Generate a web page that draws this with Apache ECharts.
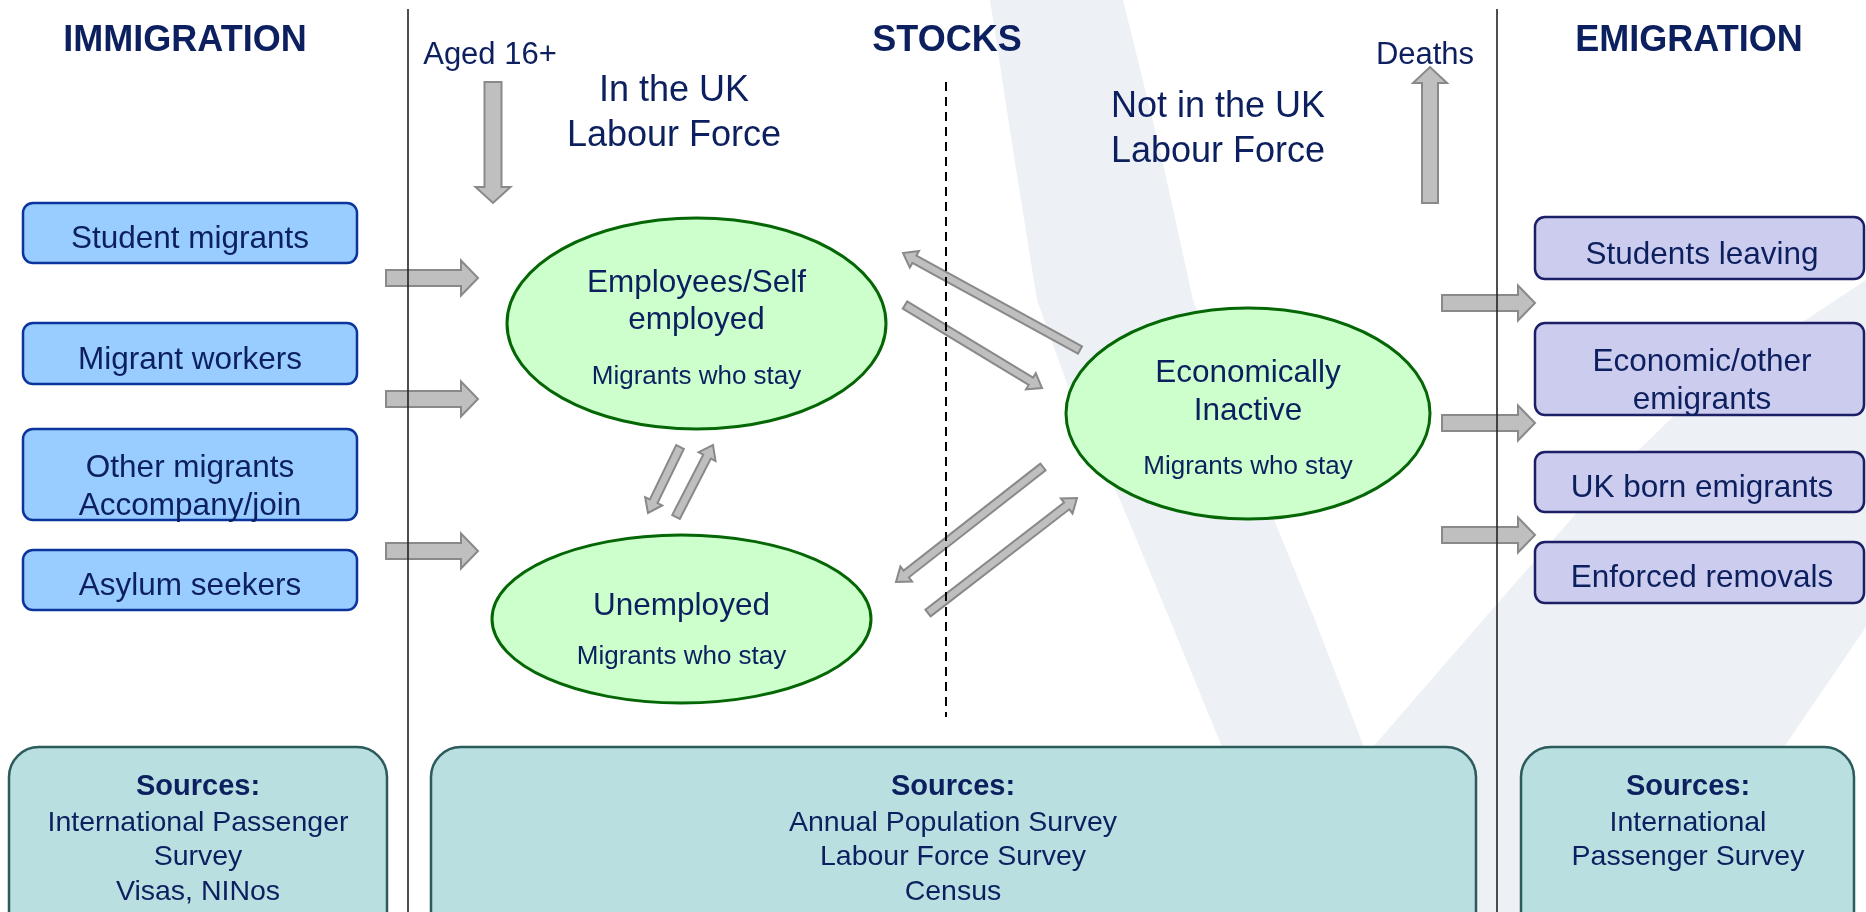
<!DOCTYPE html>
<html>
<head>
<meta charset="utf-8">
<script src="https://cdn.jsdelivr.net/npm/echarts@6/dist/echarts.min.js"></script>
<style>
html,body{margin:0;padding:0;background:#ffffff;}
#chart{width:1866px;height:912px;}
</style>
</head>
<body>
<div id="chart"></div>
<script>
// ================= DATA =================
const sectionHeaders = ['IMMIGRATION', 'STOCKS', 'EMIGRATION'];
const immigrationFlows = ['Student migrants', 'Migrant workers', 'Other migrants\nAccompany/join', 'Asylum seekers'];
const emigrationFlows = ['Students leaving', 'Economic/other\nemigrants', 'UK born emigrants', 'Enforced removals'];
const stockStates = ['Employees/Self\nemployed', 'Unemployed', 'Economically\nInactive'];
const stockNote = 'Migrants who stay';
const stockGroups = ['In the UK\nLabour Force', 'Not in the UK\nLabour Force'];
const populationEntry = 'Aged 16+';
const populationExit = 'Deaths';
// transitions between stock states: [from, to]
const stateTransitions = [[2, 0], [0, 2], [2, 1], [1, 2], [0, 1], [1, 0]];
const sourcesTitle = 'Sources:';
const immigrationSources = ['International Passenger', 'Survey', 'Visas, NINos'];
const stockSources = ['Annual Population Survey', 'Labour Force Survey', 'Census'];
const emigrationSources = ['International', 'Passenger Survey'];

// ================= LAYOUT (diagram space, 1866 x 912) =================
const LAYOUT = {
  headerX: [185, 947, 1689], headerY: 36.5,
  dividerX: [408, 1497], dividerTop: 9,
  dashedX: 946, dashedY: [82, 717],
  inBoxX: [23, 357], inBoxY: [[203, 263], [323, 384], [429, 520], [550, 610]],
  inTextY: [235.5, 356.5, 483, 582.5],
  inArrowX: [386, 478], inArrowY: [278, 399, 551],
  outBoxX: [1535, 1864], outBoxY: [[217, 279], [323, 415], [452, 512], [542, 603]],
  outTextX: 1702, outTextY: [251, 377, 484, 574],
  outArrowX: [1442, 1535], outArrowY: [303, 423, 535],
  ellipses: [
    { cx: 696.5, cy: 323.5, rx: 189.5, ry: 105.5, ty: 297.5, sy: 373.5 },
    { cx: 681.5, cy: 619, rx: 189.5, ry: 84, ty: 602, sy: 653.5 },
    { cx: 1248, cy: 413.5, rx: 182, ry: 105.5, ty: 388, sy: 463.5 }
  ],
  transitionPaths: {
    '2-0': [[1080, 350], [903, 253]],
    '0-2': [[905, 305], [1042, 388]],
    '2-1': [[1043, 467], [896, 582]],
    '1-2': [[928, 613], [1077, 498]],
    '0-1': [[680, 447], [648, 513]],
    '1-0': [[676, 517], [713, 445]]
  },
  groupLabelPos: [[674, 109], [1218, 125]],
  entryText: [490, 51], entryArrow: [[493, 82], [493, 203]],
  exitText: [1425, 51], exitArrow: [[1430, 203], [1430, 67]],
  srcBoxes: [[9, 387], [431, 1476], [1521, 1854]], srcTop: 747, srcBottom: 950,
  srcTextX: [198, 953, 1688], srcRowY: [783.5, 819, 853.5, 888],
  watermark: [
    [[990, 0], [1013, 150], [1037, 300], [1080, 420], [1120, 500], [1170, 620], [1222, 747], [1262, 912],
     [1412, 912], [1364, 747], [1315, 620], [1266, 500], [1240, 420], [1193, 300], [1160, 150], [1123, 0]],
    [[1230, 912], [1373, 747], [1483, 620], [1588, 500], [1700, 390], [1866, 280],
     [1866, 627], [1784, 747], [1672, 912]]
  ]
};

// ================= STYLES =================
const FONT = '"Liberation Sans", Arial, Helvetica, sans-serif';
const NAVY = '#0c1f5f';
const ARROW_STYLE = { fill: '#bfbfbf', stroke: '#898989', lineWidth: 2 };

// ================= BUILD ELEMENT LIST =================
const els = [];
LAYOUT.watermark.forEach(p => els.push({ k: 'poly', pts: p, style: { fill: '#edf1f5' } }));

function addArrow(p0, p1, sw, hw, hl) { els.push({ k: 'arrow', p0, p1, sw, hw, hl }); }
function addText(x, y, text, size, lh, bold) { els.push({ k: 'text', x, y, text, size, lh, bold: !!bold }); }

LAYOUT.inArrowY.forEach(y => addArrow([LAYOUT.inArrowX[0], y], [LAYOUT.inArrowX[1], y], 16, 35, 17));
LAYOUT.outArrowY.forEach(y => addArrow([LAYOUT.outArrowX[0], y], [LAYOUT.outArrowX[1], y], 16, 35, 17));
addArrow(LAYOUT.entryArrow[0], LAYOUT.entryArrow[1], 17, 35, 16);
addArrow(LAYOUT.exitArrow[0], LAYOUT.exitArrow[1], 16, 34, 16);
stateTransitions.forEach(([a, b]) => {
  const p = LAYOUT.transitionPaths[a + '-' + b];
  addArrow(p[0], p[1], 8.5, 19, 13);
});

LAYOUT.dividerX.forEach(x => els.push({ k: 'line', a: [x, LAYOUT.dividerTop], b: [x, 912], style: { stroke: '#222', lineWidth: 1.6 } }));
els.push({ k: 'line', a: [LAYOUT.dashedX, LAYOUT.dashedY[0]], b: [LAYOUT.dashedX, LAYOUT.dashedY[1]], style: { stroke: '#000', lineWidth: 2, lineDash: [9, 6] } });

sectionHeaders.forEach((h, i) => addText(LAYOUT.headerX[i], LAYOUT.headerY, h, 36, 40, true));

immigrationFlows.forEach((lab, i) => {
  const [x0, x1] = LAYOUT.inBoxX, [y0, y1] = LAYOUT.inBoxY[i];
  els.push({ k: 'rect', x0, y0, x1, y1, r: 10, style: { fill: '#99ccff', stroke: '#0b349c', lineWidth: 2.5 } });
  addText((x0 + x1) / 2, LAYOUT.inTextY[i], lab, 31.5, 38.5);
});
emigrationFlows.forEach((lab, i) => {
  const [x0, x1] = LAYOUT.outBoxX, [y0, y1] = LAYOUT.outBoxY[i];
  els.push({ k: 'rect', x0, y0, x1, y1, r: 10, style: { fill: '#ccccee', stroke: '#1c1f66', lineWidth: 2.5 } });
  addText(LAYOUT.outTextX, LAYOUT.outTextY[i], lab, 31.5, 38);
});

stockStates.forEach((lab, i) => {
  const e = LAYOUT.ellipses[i];
  els.push({ k: 'ellipse', cx: e.cx, cy: e.cy, rx: e.rx, ry: e.ry, style: { fill: '#ccffcc', stroke: '#056605', lineWidth: 3 } });
  addText(e.cx, e.ty, lab, 31.5, 37.5);
  addText(e.cx, e.sy, stockNote, 26, 30);
});

stockGroups.forEach((g, i) => addText(LAYOUT.groupLabelPos[i][0], LAYOUT.groupLabelPos[i][1], g, 36, 45));
addText(LAYOUT.entryText[0], LAYOUT.entryText[1], populationEntry, 31, 36);
addText(LAYOUT.exitText[0], LAYOUT.exitText[1], populationExit, 31, 36);

[immigrationSources, stockSources, emigrationSources].forEach((lines, i) => {
  const [x0, x1] = LAYOUT.srcBoxes[i];
  els.push({ k: 'rect', x0, y0: LAYOUT.srcTop, x1, y1: LAYOUT.srcBottom, r: 30, style: { fill: '#b9dfe1', stroke: '#2c5b5c', lineWidth: 2.5 } });
  addText(LAYOUT.srcTextX[i], LAYOUT.srcRowY[0], sourcesTitle, 29, 34, true);
  lines.forEach((t, j) => addText(LAYOUT.srcTextX[i], LAYOUT.srcRowY[j + 1], t, 28.5, 34));
});

// ================= RENDER =================
function arrowPoints(p0, p1, sw, hw, hl) {
  const dx = p1[0] - p0[0], dy = p1[1] - p0[1], len = Math.hypot(dx, dy);
  const ux = dx / len, uy = dy / len, nx = -uy, ny = ux;
  const bx = p1[0] - ux * hl, by = p1[1] - uy * hl, s = sw / 2, h = hw / 2;
  return [
    [p0[0] + nx * s, p0[1] + ny * s], [bx + nx * s, by + ny * s], [bx + nx * h, by + ny * h], [p1[0], p1[1]],
    [bx - nx * h, by - ny * h], [bx - nx * s, by - ny * s], [p0[0] - nx * s, p0[1] - ny * s]
  ];
}

function renderItem(params, api) {
  const e = els[params.dataIndex];
  const P = p => api.coord(p);
  if (e.k === 'poly') {
    return { type: 'polygon', shape: { points: e.pts.map(P) }, style: e.style, silent: true };
  }
  if (e.k === 'arrow') {
    return { type: 'polygon', shape: { points: arrowPoints(P(e.p0), P(e.p1), e.sw, e.hw, e.hl) }, style: ARROW_STYLE };
  }
  if (e.k === 'line') {
    const a = P(e.a), b = P(e.b);
    return { type: 'line', shape: { x1: a[0], y1: a[1], x2: b[0], y2: b[1] }, style: e.style };
  }
  if (e.k === 'rect') {
    const a = P([e.x0, e.y0]), b = P([e.x1, e.y1]);
    return { type: 'rect', shape: { x: Math.min(a[0], b[0]), y: Math.min(a[1], b[1]), width: Math.abs(b[0] - a[0]), height: Math.abs(b[1] - a[1]), r: e.r }, style: e.style };
  }
  if (e.k === 'ellipse') {
    const c = P([e.cx, e.cy]), r = P([e.cx + e.rx, e.cy + e.ry]);
    return { type: 'ellipse', shape: { cx: c[0], cy: c[1], rx: Math.abs(r[0] - c[0]), ry: Math.abs(r[1] - c[1]) }, style: e.style };
  }
  if (e.k === 'text') {
    const c = P([e.x, e.y]);
    return {
      type: 'text',
      style: {
        text: e.text, x: c[0], y: c[1] + e.size * 0.13, fill: NAVY,
        font: (e.bold ? 'bold ' : '') + e.size + 'px ' + FONT,
        align: 'center', verticalAlign: 'middle', lineHeight: e.lh
      }
    };
  }
  return null;
}

const chart = echarts.init(document.getElementById('chart'), null, { renderer: 'canvas' });
chart.setOption({
  animation: false,
  backgroundColor: '#ffffff',
  grid: { left: 0, right: 0, top: 0, bottom: 0 },
  xAxis: { type: 'value', min: 0, max: 1866, show: false },
  yAxis: { type: 'value', min: 0, max: 912, inverse: true, show: false },
  series: [{
    type: 'custom',
    coordinateSystem: 'cartesian2d',
    clip: false,
    renderItem: renderItem,
    data: els.map((e, i) => [i, 0])
  }]
});
</script>
</body>
</html>
